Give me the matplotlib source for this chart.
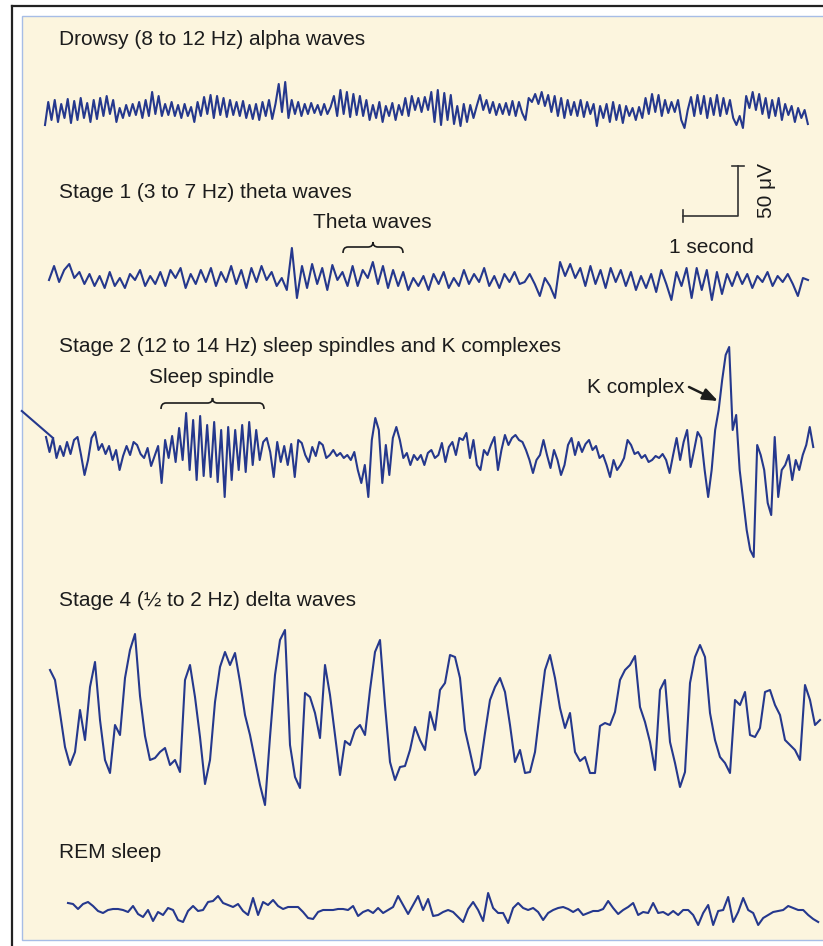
import numpy as np
import matplotlib.pyplot as plt
from matplotlib.patches import Rectangle, PathPatch
from matplotlib.path import Path

plt.rcParams['font.family'] = ['Liberation Sans', 'DejaVu Sans']

# ---- data: evenly sampled EEG traces, amplitude in microvolts (up = positive)
alpha_sec = 13.87
alpha_uv = [
    -15, 8, -10, 10, -12, 6, -8, 11, -13, 9, -10, 12, -8, 7, -12, 10, -9,
    12, -6, 14, -4, 10,
    -12, 2, -8, 5, -6, 6, -5, 8, -8,
    10, -6, 18, -4, 14, -6,
    6, -5, 8, -6, 5, -8, 6, -6, 3, -12,
    8, -6, 13, -4, 15, -8, 14, -5, 12, -7,
    10, -5, 8, -6, 9, -8,
    5, -9, 6, -10, 8, -6, 10, -9, 6,
    26, -2, 28, -8,
    10, -4, 8, -6, 6, -4, 7, -3, 5, -5, 6, -4, 3,
    14, -6, 20, -4, 18, -7, 16, -5, 14, -6, 10,
    -10, 5, -8, 8, -12, 4, -6, 7, -10, 5, -5, 12, -6,
    14, 0, 12, -2, 13, 0,
    18, -12, 20, -15, 17, -10, 15,
    -14, 4, -16, 6, -12, 5, -8, 4,
    15, 0, 10, -3, 8, -5, 6, -4, 7, -5, 9, -6, 8, -3,
    -10,
    12, 8, 16, 6, 18, 4, 15,
    -2, 14, -6, 12, -8, 10, -5, 8, -6, 10, -7, 8, -4, 6, -16,
    4, -8, 6, -12, 8, -10, 5, -13, 4, -6, 2, -10, 3, -8,
    12, -4, 16, -2, 15, -6, 10, -3, 8, -2, 10,
    -10, -18, 0,
    13, -6, 15, -4, 14, -8, 12, -5, 15, -6, 12, -4, 10, -8,
    -15, -6, -18,
    14, 2, 18, 0, 16,
    -4, 12, -8, 10, -6, 12,
    -10, 6, -5, 4, -12, 2, -8, 0, -14,
]

theta_sec = 13.8
theta_uv = [
    0, 14, -2, 10, 16, 2, 8, -4, 6, -6, 4, -8, 8, -6, 2, -8, 6, 0, 10, -6, 4, -4,
    8, -6, 10, 2, 12, -8, 6, -4, 10, -2, 12, -6, 8, -2, 14, -4, 10, -8, 12, -2,
    14, 0, 8, -6, 2, -10,
    32, -18,
    14, -8, 16, -4, 12, -10, 15, 0, 8, -6, 14, -6, 10, 2, 18, -4, 14, -8, 10, -6,
    8, -10,
    2, -6, 4, -10, 6, -4, 8, -8, 2, -6, 10, -4, 6, -2, 12, -6, 4, -8, 6, -2, 8,
    -4, -2, 6, -4, -16, 2, -6, -18,
    18, 4, 16, 2,
    12, -6, 14, -4, 10, -8, 12, -2, 10, -6, 8, -10, 4,
    -8, 6, -12, 10, -4, -20, 8, -6, 12, -18, 12, -10, 10, -20, 8, -14, 6,
    -6, 8, -4, 6, -8, 4, -2, 8, -6, 4, -2, 6, -4, -16, 2, 0,
]

stage2_sec = 13.95
stage2_lead = (-0.44, 39)  # pen trace entering from the left edge
stage2_uv = [
    13, -2,
    12, -8, 4, -6, 8, -4, 10, 13,
    -5, -25, -10, 12, 18, 0,
    6, -4, 4, -10, 0, -20, -6, 4, -5, 8, 5, -4, -8, 2, -16,
    -6, 4, -33, 10, -8, 14, -12, 22, -10,
    # sleep spindle
    37, -20, 30, -30, 34, -26, 25, -27, 28, -32, 20, -47, 23, -30, 20, -20,
    25, -22, 28, -15, 20, -10, 8, 12,
    -2, -27, 8, -12, 4, -15, 6, -27, 10, 7, -5, -12, 3, -6, 8, 5, -8, -5, 0,
    -6, -3, -8, -5, -10, -2, -20, -33, -15, -47,
    10, 32, 20,
    -33, 5, -25, 12, 23, 10, -8, -3, -15, -5,
    -10, -5, -15, -3, 0, -8, -5, 7, -12, 3, 8, -5, 12, 10, 17,
    -8, 10, -15, -20, 0, -5, 5, 13, -20, 0, 15, 5, 12, 15, 10, 8, 0, -10,
    -23, -10, -5, 10, -5, -18, 0, -10, -25, -15,
    5, 12, -5, 8, -2, 6, 10, 0, 4, -8,
    -5, -15, -27, -10, -20, -15, -8,
    10, 5, -4, -2, -8, -5, -12, -10, -6, -8, -4,
    -10, -23, -5, 12, -10, 8, 20, -17, 0, 18, 12,
    # K complex
    -20, -47, -20, 20, 40, 70, 95, 103,
    20, 35, -20, -50, -80, -100, -107,
    5, -5, -20, -53, -65,
    13, -47, -20, -15, -5, -30, -10, -20, -5, 5, 23, 3,
]

delta_sec = 14.0
delta_uv = [
    50, 40, 7, -27, -45, -32, 10, -20, 33, 58,
    0, -40, -53, -5, -15, 42, 70, 86, 24, -16,
    -40, -38, -32, -28, -45, -40, -52, 40, 55, 23,
    -17, -64, -40, 18, 53, 68, 55, 67, 38, 5,
    -15, -40, -65, -85, -17, 45, 80, 90, -25, -57,
    -68, 27, 23, 7, -18, 55, 25, -15, -55, -21,
    -25, -10, -5, -15, 30, 68, 80, 15, -42, -60,
    -47, -46, -30, -7, -20, -30, 8, -10, 30, 37,
    65, 63, 42, -10, -32, -55, -48, -13, 20, 33,
    42, 28, -5, -42, -30, -53, -52, -32, 10, 50,
    65, 42, 12, -8, 7, -32, -41, -37, -53, -53,
    -6, -3, -5, 8, 40, 50, 55, 64, 13, -2,
    -22, -50, 30, 40, -22, -43, -67, -52, 37, 63,
    75, 63, 7, -20, -37, -43, -53, 20, 15, 28,
    -15, -17, -8, 28, 30, 15, 5, -20, -25, -30,
    -40, 35, 20, -5, 0,
]

rem_sec = 13.64
rem_uv = [
    7, 6, 1, 6, 8, 4, -1, -3, 0, 1,
    1, 0, -2, 4, -4, -7, 0, -11, -2, -5,
    2, 0, -10, -12, -1, 4, -1, 0, 8, 9,
    14, 7, 5, 3, 6, -1, -5, 12, -5, 8,
    5, 10, 4, 1, 3, 3, 3, -2, -8, -9,
    -2, 0, 0, 0, 1, 1, 0, 4, -6, -2,
    0, -3, 2, -3, 0, 3, 14, 5, -4, 5,
    14, 0, 11, -6, -5, -2, 0, -2, -7, -12,
    1, 8, 0, -11, 17, 2, -3, -3, -13, 2,
    7, 2, 0, 2, -2, -10, -3, 0, 2, 3,
    1, -2, 1, -5, -3, -1, -1, 1, 9, 2,
    -4, 0, 3, 7, -5, -2, -3, 7, -3, -2,
    -5, -1, -5, 0, 0, -5, -15, -3, 5, -15,
    -1, 0, 13, -12, -2, 12, 0, -3, -15, -8,
    -5, -2, -1, 0, 4, 2, 0, 0, -5, -9,
    -12,
]

titles = [
    'Drowsy (8 to 12 Hz) alpha waves',
    'Stage 1 (3 to 7 Hz) theta waves',
    'Stage 2 (12 to 14 Hz) sleep spindles and K complexes',
    'Stage 4 (\u00bd to 2 Hz) delta waves',
    'REM sleep',
]
scale_sec = 1
scale_uv = 50

# ---- layout (pixels)
PX_PER_SEC = 55.0
PX_PER_UV = 1.0
TRACE_COLOR = '#25388d'
INK = '#1c1c1c'
FS = 15

fig = plt.figure(figsize=(8.23, 9.46), dpi=100)
ax = fig.add_axes([0, 0, 1, 1])
ax.set_xlim(0, 823)
ax.set_ylim(946, 0)
ax.axis('off')

# frame
ax.plot([12, 12], [6, 946], color='#222222', lw=1.6)
ax.plot([12, 823], [6, 6], color='#222222', lw=1.6)
ax.add_patch(Rectangle((22, 16), 820, 924, facecolor='#fcf5de',
                       edgecolor='#a7bde6', lw=1.0))


def draw_trace(values, duration, x0, base):
    t = np.linspace(0, duration, len(values))
    x = x0 + t * PX_PER_SEC
    y = base - np.asarray(values) * PX_PER_UV
    ax.plot(x, y, color=TRACE_COLOR, lw=1.5, solid_joinstyle='round')
    return x, y


def draw_brace(x1, x2, y_end, y_line, y_tip, r=5):
    mid = (x1 + x2) / 2
    verts = [(x1, y_end), (x1, y_line), (x1 + r, y_line),
             (mid - r, y_line), (mid, y_line), (mid, y_tip),
             (mid, y_line), (mid + r, y_line),
             (x2 - r, y_line), (x2, y_line), (x2, y_end)]
    codes = [Path.MOVETO, Path.CURVE3, Path.CURVE3,
             Path.LINETO, Path.CURVE3, Path.CURVE3,
             Path.CURVE3, Path.CURVE3,
             Path.LINETO, Path.CURVE3, Path.CURVE3]
    ax.add_patch(PathPatch(Path(verts, codes), facecolor='none',
                           edgecolor=INK, lw=1.2))


# titles
for txt, yb in zip(titles, [45, 198, 352, 606, 858]):
    ax.text(59, yb, txt, fontsize=FS, color=INK, ha='left', va='baseline')

# traces
draw_trace(alpha_uv, alpha_sec, 45, 110)
draw_trace(theta_uv, theta_sec, 49, 280)
x2, y2 = draw_trace(stage2_uv, stage2_sec, 46, 450)
ax.plot([46 + stage2_lead[0] * PX_PER_SEC, x2[2]],
        [450 - stage2_lead[1] * PX_PER_UV, y2[2]],
        color=TRACE_COLOR, lw=1.5)
draw_trace(delta_uv, delta_sec, 50, 720)
draw_trace(rem_uv, rem_sec, 68, 910)

# annotations
ax.text(313, 228, 'Theta waves', fontsize=FS, color=INK, va='baseline')
draw_brace(343, 403, 253, 247, 242)
ax.text(149, 383, 'Sleep spindle', fontsize=FS, color=INK, va='baseline')
draw_brace(161, 264, 409, 403, 398)
ax.text(587, 393, 'K complex', fontsize=FS, color=INK, va='baseline')
ax.annotate('', xy=(718, 401), xytext=(689, 387),
            arrowprops=dict(arrowstyle='-|>,head_length=0.9,head_width=0.35',
                            color=INK, lw=1.8, shrinkA=0, shrinkB=0))

# scale bar
cx, cy = 738, 216
sx = cx - scale_sec * PX_PER_SEC
sy = cy - scale_uv * PX_PER_UV
ax.plot([sx, cx, cx], [cy, cy, sy], color='#333333', lw=1.2)
ax.plot([sx, sx], [cy - 6, cy + 6], color='#333333', lw=1.2)
ax.plot([cx - 6, cx + 6], [sy, sy], color='#333333', lw=1.2)
ax.text(669, 253, '%d second' % scale_sec, fontsize=FS, color=INK,
        va='baseline')
ax.text(767, (cy + sy) / 2, '%d \u03bcV' % scale_uv, fontsize=FS, color=INK,
        rotation=90, ha='center', va='center')

fig.savefig('out.png', dpi=100, facecolor='white')
